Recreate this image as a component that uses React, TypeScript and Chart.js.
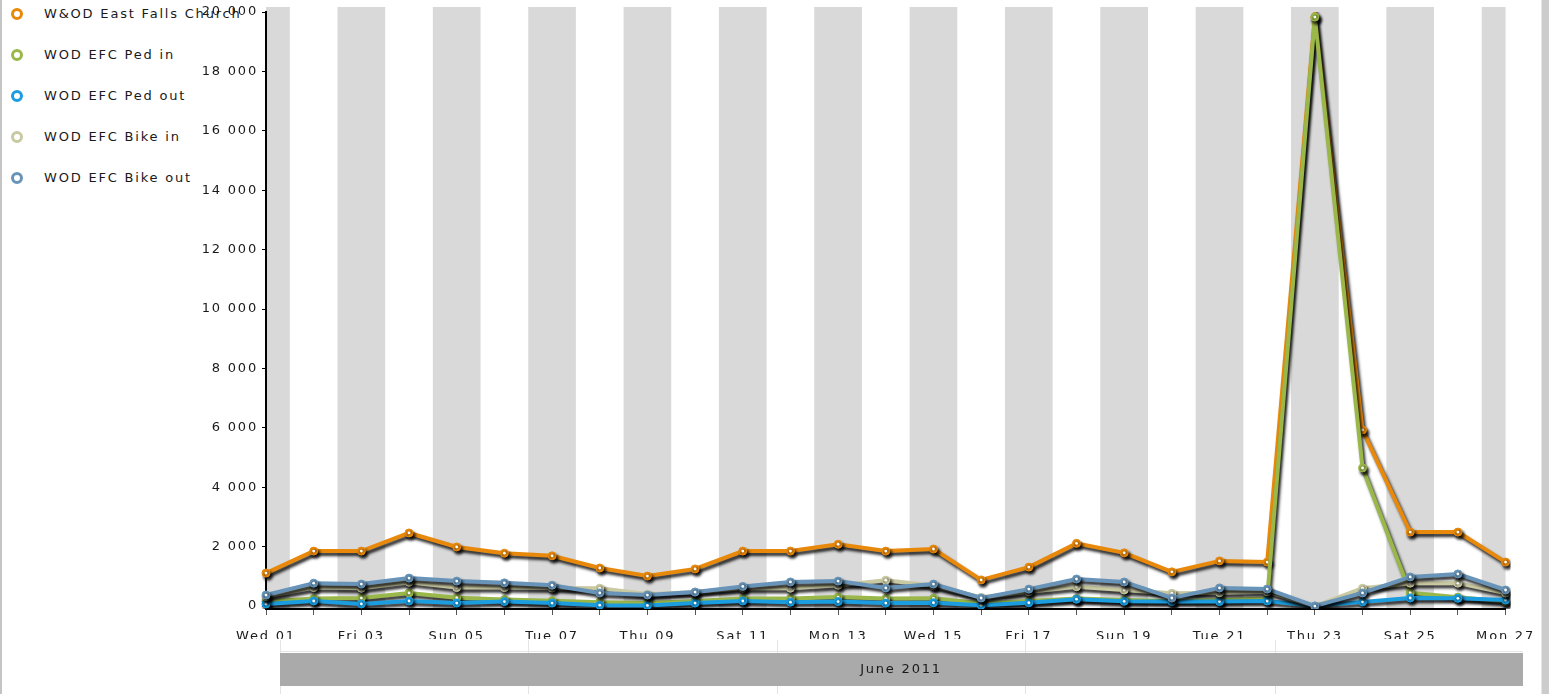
import React, { useEffect, useRef } from "react";
import { Chart, registerables } from "chart.js";

Chart.register(...registerables);

const days = [
  "Wed 01", "Thu 02", "Fri 03", "Sat 04", "Sun 05", "Mon 06", "Tue 07", "Wed 08", "Thu 09",
  "Fri 10", "Sat 11", "Sun 12", "Mon 13", "Tue 14", "Wed 15", "Thu 16", "Fri 17", "Sat 18",
  "Sun 19", "Mon 20", "Tue 21", "Wed 22", "Thu 23", "Fri 24", "Sat 25", "Sun 26", "Mon 27",
];

const seriesNames = [
  "W&OD East Falls Church",
  "WOD EFC Ped in",
  "WOD EFC Ped out",
  "WOD EFC Bike in",
  "WOD EFC Bike out",
];

const seriesColors = ["#e8890c", "#9ab84a", "#1b9ddf", "#c9c9a2", "#6794b8"];

const totalEFC = [1110, 1850, 1850, 2460, 1990, 1780, 1690, 1280, 1010, 1250, 1850, 1850, 2080, 1850, 1920, 880, 1310, 2110, 1790, 1150, 1520, 1480, 19830, 5930, 2490, 2490, 1480];
const pedIn = [150, 250, 270, 440, 280, 220, 180, 130, 100, 170, 250, 250, 300, 250, 260, 90, 170, 250, 200, 170, 200, 250, 19830, 4650, 450, 300, 150];
const pedOut = [70, 170, 70, 170, 100, 150, 100, 30, 20, 100, 170, 130, 150, 100, 110, 30, 110, 230, 160, 150, 150, 170, 0, 140, 270, 260, 200];
const bikeIn = [320, 620, 600, 800, 620, 620, 610, 600, 400, 470, 600, 600, 700, 870, 680, 290, 480, 650, 540, 430, 450, 480, 0, 600, 770, 770, 440];
const bikeOut = [370, 770, 740, 940, 840, 780, 700, 440, 370, 470, 660, 810, 840, 610, 740, 270, 570, 910, 810, 270, 610, 570, 0, 440, 980, 1080, 540];

const yTicks = [0, 2000, 4000, 6000, 8000, 10000, 12000, 14000, 16000, 18000, 20000];
const periodLabel = "June 2011";

const FONT = "'DejaVu Sans', Verdana, sans-serif";
const SPACING = "1.8px";

const fmt = (v: number) => String(v).replace(/\B(?=(\d{3})+(?!\d))/g, " ");

const spacingPlugin = {
  id: "spacing",
  beforeUpdate(chart: any) {
    chart.ctx.letterSpacing = SPACING;
  },
  beforeDraw(chart: any) {
    chart.ctx.letterSpacing = SPACING;
  },
};

const bandsPlugin = {
  id: "bands",
  beforeDraw(chart: any) {
    const { ctx, chartArea } = chart;
    const x = chart.scales.x;
    const half = (x.getPixelForValue(1) - x.getPixelForValue(0)) / 2;
    ctx.save();
    ctx.fillStyle = "#d9d9d9";
    for (let i = 0; i < days.length; i += 2) {
      const c = x.getPixelForValue(i);
      const l = Math.max(chartArea.left, c - half);
      const r = Math.min(chartArea.right, c + half);
      ctx.fillRect(l, chartArea.top - 5, r - l, chartArea.bottom - chartArea.top + 5);
    }
    // navigator-like period band
    ctx.strokeStyle = "#e4e4e4";
    ctx.lineWidth = 1;
    [280, 528, 777, 1025, 1275].forEach((px) => {
      ctx.beginPath();
      ctx.moveTo(px + 0.5, 640);
      ctx.lineTo(px + 0.5, 694);
      ctx.stroke();
    });
    ctx.beginPath();
    ctx.moveTo(280, 651.5);
    ctx.lineTo(1523, 651.5);
    ctx.stroke();
    ctx.fillStyle = "#aaaaaa";
    ctx.fillRect(280, 653, 1243, 33);
    ctx.fillStyle = "#1a1a1a";
    ctx.font = `13px ${FONT}`;
    ctx.textAlign = "center";
    ctx.textBaseline = "middle";
    ctx.letterSpacing = SPACING;
    ctx.fillText(periodLabel, 901, 670);
    ctx.restore();
  },
};

const shadowPlugin = {
  id: "shadow",
  beforeDatasetDraw(chart: any) {
    const ctx = chart.ctx;
    ctx.save();
    ctx.shadowColor = "rgba(0,0,0,0.85)";
    ctx.shadowOffsetX = 2;
    ctx.shadowOffsetY = 3;
    ctx.shadowBlur = 3;
  },
  afterDatasetDraw(chart: any, args: any) {
    const ctx = chart.ctx;
    ctx.restore();
    // white centre dot of each marker
    ctx.save();
    ctx.fillStyle = "#ffffff";
    args.meta.data.forEach((pt: any) => {
      ctx.beginPath();
      ctx.arc(pt.x, pt.y, 1.4, 0, Math.PI * 2);
      ctx.fill();
    });
    ctx.restore();
  },
};

export default function App() {
  const ref = useRef<HTMLCanvasElement | null>(null);

  useEffect(() => {
    document.body.style.margin = "0";
    const canvas = ref.current!;
    const all = [totalEFC, pedIn, pedOut, bikeIn, bikeOut];
    const chart = new Chart(canvas, {
      type: "line",
      data: {
        labels: days,
        datasets: all.map((d, i) => ({
          label: seriesNames[i],
          data: d,
          borderColor: seriesColors[i],
          backgroundColor: seriesColors[i],
          borderWidth: 4,
          pointRadius: 4,
          pointBorderWidth: 1,
          pointBackgroundColor: seriesColors[i],
          pointBorderColor: seriesColors[i],
          tension: 0,
          order: all.length - 1 - i,
        })),
      },
      options: {
        responsive: false,
        animation: false,
        devicePixelRatio: 1,
        layout: { padding: { left: 186, right: 43, top: 12, bottom: 55 } },
        plugins: { legend: { display: false }, tooltip: { enabled: false } },
        scales: {
          x: {
            type: "category",
            offset: false,
            grid: { drawOnChartArea: false, drawTicks: true, tickLength: 6, color: "#555", lineWidth: 1 },
            border: { color: "#000", width: 2 },
            ticks: {
              autoSkip: false,
              maxRotation: 0,
              padding: 14,
              color: "#1a1a1a",
              font: { family: FONT, size: 13 },
              callback: (_v: any, i: number) => (i % 2 === 0 ? days[i] : ""),
            },
            afterFit: (s: any) => {
              s.height = 30;
            },
          },
          y: {
            min: -100,
            max: 20000,
            grid: { drawOnChartArea: false, drawTicks: true, tickLength: 4, color: "#000" },
            border: { color: "#000", width: 2 },
            afterBuildTicks: (s: any) => {
              s.ticks = yTicks.map((v) => ({ value: v }));
            },
            ticks: {
              padding: 4,
              color: "#1a1a1a",
              font: { family: FONT, size: 13 },
              callback: (v: any) => fmt(Number(v)),
            },
            afterFit: (s: any) => {
              s.width = 80;
            },
          },
        },
      },
      plugins: [spacingPlugin, bandsPlugin, shadowPlugin],
    });
    return () => chart.destroy();
  }, []);

  return (
    <div style={{ position: "relative", width: 1549, height: 694, background: "#fff", overflow: "hidden" }}>
      <div style={{ position: "absolute", left: 0, top: 0, width: 2, height: 694, background: "#c4c4c4" }} />
      <div style={{ position: "absolute", left: 1541, top: 0, width: 8, height: 694, background: "#cccccc", borderLeft: "1px solid #e6e6e6" }} />
      {seriesNames.map((name, i) => (
        <div key={name} style={{ position: "absolute", left: 0, top: 14 + i * 41 - 10, height: 20 }}>
          <div
            style={{
              position: "absolute",
              left: 11,
              top: 4,
              width: 6,
              height: 6,
              borderRadius: "50%",
              border: `3px solid ${seriesColors[i]}`,
              background: "#fff",
            }}
          />
          <span
            style={{
              position: "absolute",
              left: 44,
              top: 1,
              whiteSpace: "nowrap",
              font: `13px ${FONT}`,
              letterSpacing: SPACING,
              color: "#1a1a1a",
              lineHeight: "18px",
            }}
          >
            {name}
          </span>
        </div>
      ))}
      <canvas ref={ref} width={1549} height={694} style={{ position: "absolute", left: 0, top: 0 }} />
    </div>
  );
}
